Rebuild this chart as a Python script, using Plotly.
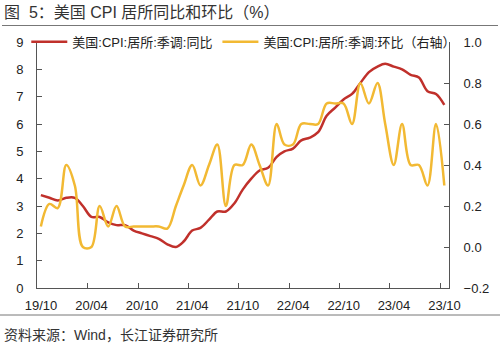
import plotly.graph_objects as go
import pandas as pd

months = pd.date_range("2019-10-01", "2023-10-01", freq="MS") + pd.Timedelta(days=14)

yoy = [3.4, 3.3, 3.2, 3.3, 3.3, 3.0, 2.6, 2.6, 2.4, 2.3, 2.3, 2.1,
       2.0, 1.9, 1.8, 1.6, 1.5, 1.7, 2.1, 2.2, 2.5, 2.8, 2.8, 3.1,
       3.6, 4.0, 4.3, 4.4, 4.8, 5.0, 5.1, 5.4, 5.5, 5.7, 6.3, 6.6,
       6.9, 7.1, 7.5, 7.9, 8.1, 8.2, 8.1, 8.0, 7.8, 7.7, 7.2, 7.1, 6.7]

mom = [0.1, 0.21, 0.19, 0.4, 0.3, 0.0, 0.0, 0.2, 0.1, 0.2, 0.1, 0.1,
       0.1, 0.1, 0.1, 0.09, 0.2, 0.3, 0.4, 0.3, 0.4, 0.5, 0.2, 0.4,
       0.4, 0.5, 0.4, 0.3, 0.6, 0.5, 0.5, 0.6, 0.6, 0.6, 0.7, 0.7,
       0.7, 0.6, 0.8, 0.7, 0.8, 0.6, 0.4, 0.6, 0.4, 0.4, 0.3, 0.6, 0.3]

tick_dates = pd.date_range("2019-10-01", "2023-10-01", freq="6MS")
tick_text = ["19/10", "20/04", "20/10", "21/04", "21/10", "22/04", "22/10", "23/04", "23/10"]

name_yoy = "美国:CPI:居所:季调:同比"
name_mom = "美国:CPI:居所:季调:环比（右轴）"
title = "图\u00a0\u00a05：美国 CPI 居所同比和环比（%）"
source = "资料来源：Wind，长江证券研究所"

FONT = "Liberation Sans, Arial, Noto Sans CJK SC, sans-serif"
RED = "#C0302B"
YEL = "#F2B933"
AX = "#555555"

fig = go.Figure()
fig.add_trace(go.Scatter(x=months, y=yoy, name=name_yoy, mode="lines",
                         line=dict(color=RED, width=2.5, shape="spline", smoothing=1)))
fig.add_trace(go.Scatter(x=months, y=mom, name=name_mom, mode="lines", yaxis="y2",
                         line=dict(color=YEL, width=2.5, shape="spline", smoothing=1)))

fig.update_layout(
    width=500, height=346,
    margin=dict(l=37, r=51, t=42, b=58),
    paper_bgcolor="white", plot_bgcolor="white",
    font=dict(family=FONT, size=13, color="#222"),
    showlegend=True,
    legend=dict(orientation="h", x=-0.026, y=1.001, xanchor="left", yanchor="middle",
                bgcolor="rgba(0,0,0,0)", font=dict(size=13, color="#222"),
                itemwidth=36, tracegroupgap=0),
    xaxis=dict(type="date", range=["2019-10-01", "2023-11-01"],
               tickvals=tick_dates, ticktext=tick_text,
               ticks="inside", ticklen=5, tickcolor=AX, ticklabelshift=4,
               ticklabelstandoff=5,
               showline=True, linecolor=AX, linewidth=1, showgrid=False,
               zeroline=False, tickfont=dict(size=13, color="#222")),
    yaxis=dict(range=[0, 9], dtick=1, tick0=0, ticks="inside", ticklen=5, tickcolor=AX,
               showline=True, linecolor=AX, linewidth=1, showgrid=False, zeroline=False,
               ticklabelstandoff=10, tickfont=dict(size=13, color="#222")),
    yaxis2=dict(range=[-0.2, 1.0], dtick=0.2, tick0=0, overlaying="y", side="right",
                tickformat=".1f", ticks="inside", ticklen=5, tickcolor=AX,
                showline=True, linecolor=AX, linewidth=1, showgrid=False, zeroline=False,
                ticklabelstandoff=11, tickfont=dict(size=13, color="#222")),
)

fig.add_annotation(text=title, xref="paper", yref="paper", x=-35/412, y=1 + (42 - 13) / 246,
                   xanchor="left", yanchor="middle", showarrow=False,
                   font=dict(size=16, color="#333", family=FONT))
fig.add_annotation(text=source, xref="paper", yref="paper", x=-35/412, y=-(335 - 288) / 246,
                   xanchor="left", yanchor="middle", showarrow=False,
                   font=dict(size=14, color="#333", family=FONT))
fig.add_shape(type="line", xref="paper", yref="paper", x0=-35/412, x1=1 + 49/412,
              y0=1 + (42 - 25.5) / 246, y1=1 + (42 - 25.5) / 246, line=dict(color="#777", width=1))
fig.add_shape(type="line", xref="paper", yref="paper", x0=-37/412, x1=1 + 51/412,
              y0=-(315 - 288) / 246, y1=-(315 - 288) / 246, line=dict(color="#777", width=1))

fig.write_html("out.html")
